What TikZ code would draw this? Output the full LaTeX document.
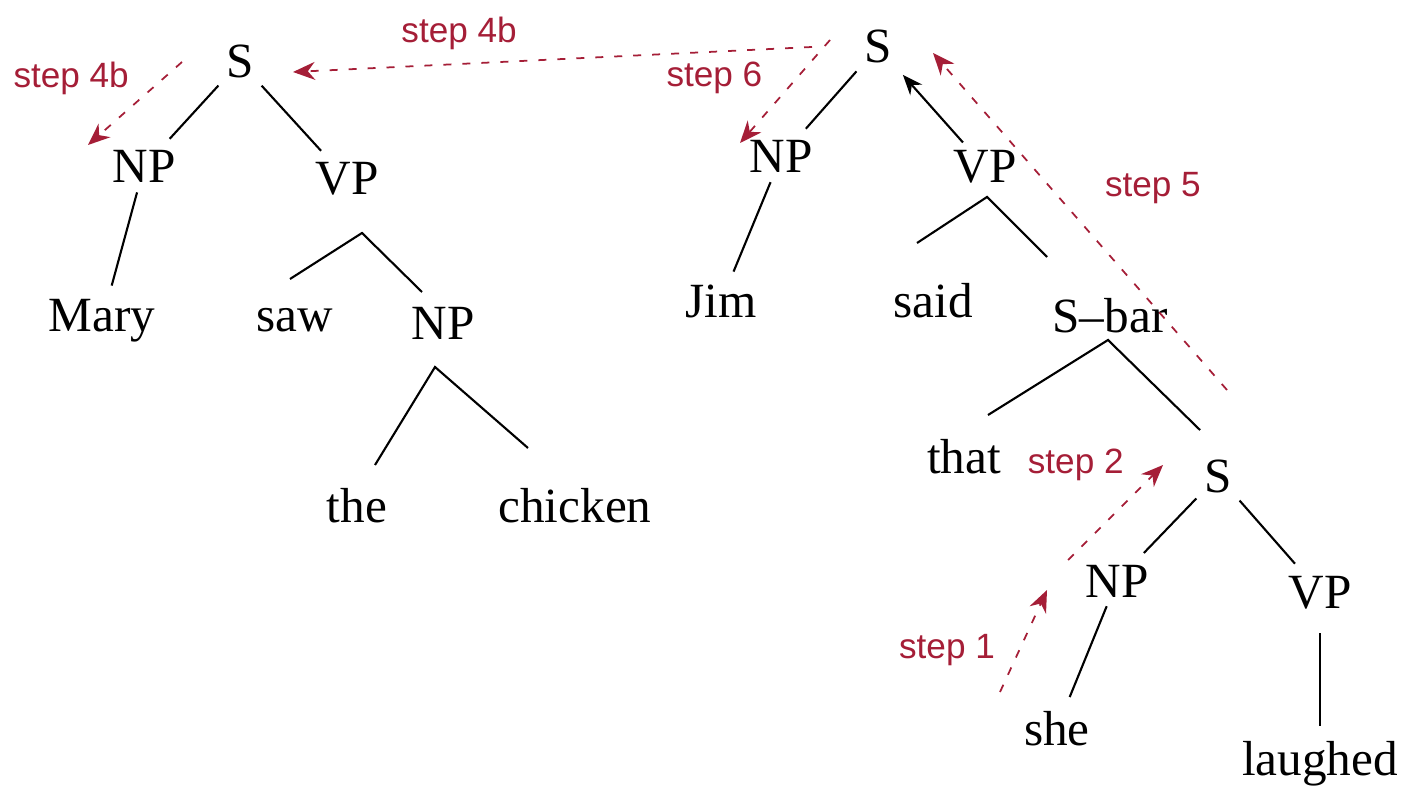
\documentclass[tikz,border=0pt]{standalone}
\usepackage{fontspec}
\setmainfont{Liberation Serif}
\newfontfamily\stepfont{Liberation Sans}
\usetikzlibrary{arrows.meta}
\definecolor{stepred}{RGB}{165,30,55}

\begin{document}
\begin{tikzpicture}[
x=0.1mm, y=-0.1mm,
line width=0.6pt,
word/.style = {anchor=base, inner sep=1pt, font=\fontsize{14}{16}\selectfont},
edge/.style = {shorten <=0.5mm, shorten >=1mm},
move/.style = {draw=stepred, line width=0.5pt, dash pattern=on 0.8mm off 1.1mm,
  -{Stealth[length=2.2mm,width=1.8mm]}},
steplabel/.style = {text=stepred, inner sep=1pt, font=\stepfont\fontsize{10}{12}\selectfont} ]
\useasboundingbox (0,0) rectangle (1408,788);

% Mary saw the chicken
\node[word] (1) at (240,78) {S};
\node[word] (2) at (144,183) {NP};
\node[word] (3) at (347,195) {VP};
\node[word] (4) at (102,332) {Mary};
\node[word] (5) at (295,332) {saw};
\node[word] (6) at (443,340) {NP};
\node[word] (7) at (357,522) {the};
\node[word] (8) at (575,522) {chicken};

\draw[edge] (1) -- (2);
\draw[edge] (1) -- (3);
\draw[edge] (2) -- (4);
\coordinate (3a) at (362,233);
\coordinate (3l) at (290,279);
\coordinate (3r) at (422,292);
\draw (3l) -- (3a) -- (3r);
\coordinate (6a) at (435,367);
\coordinate (6l) at (375,465);
\coordinate (6r) at (528,448);
\draw (6l) -- (6a) -- (6r);

% Jim said that she laughed
\node[word] (9) at (878,63) {S};
\node[word] (10) at (781,173) {NP};
\node[word] (11) at (985,183) {VP};
\node[word] (12) at (721,318) {Jim};
\node[word] (13) at (933,318) {said};
\node[word] (14) at (1110,333) {S--bar};
\node[word] (15) at (964,473) {that};
\node[word] (16) at (1218,492) {S};
\node[word] (17) at (1117,597) {NP};
\node[word] (18) at (1320,608) {VP};
\node[word] (19) at (1057,745) {she};
\node[word] (20) at (1320,775) {laughed};

\draw[edge] (9) -- (10);
\draw[edge, -{Stealth[length=2mm,width=1.6mm]}] (11) -- (9);
\draw[edge] (10) -- (12);
\coordinate (11a) at (987,197);
\coordinate (11l) at (917,243);
\coordinate (11r) at (1047,257);
\draw (11l) -- (11a) -- (11r);
\coordinate (14a) at (1108,340);
\coordinate (14l) at (988,415);
\coordinate (14r) at (1200,430);
\draw (14l) -- (14a) -- (14r);
\draw[edge] (16) -- (17);
\draw[edge] (16) -- (18);
\draw[edge] (17) -- (19);
\draw[edge, shorten <=2mm] (18) -- (20);

% movement steps
\coordinate (m1) at (1000,692);
\coordinate (m1e) at (1047,590);
\coordinate (m2) at (1068,560);
\coordinate (m2e) at (1163,465);
\coordinate (m4) at (812,47);
\coordinate (m4e) at (293,72);
\coordinate (m4b) at (182,62);
\coordinate (m4be) at (88,145);
\coordinate (m5) at (1227,390);
\coordinate (m5e) at (933,53);
\coordinate (m6) at (830,40);
\coordinate (m6e) at (740,143);

\draw[move] (m1) -- node[steplabel, pos=0.41, left=2mm] (s1) {step 1} (m1e);
\draw[move] (m2) -- node[steplabel, pos=1, left=3.5mm] (s2) {step 2} (m2e);
\draw[move] (m4) -- node[steplabel, pos=0.68, above=1mm] (s4) {step 4b} (m4e);
\draw[move] (m4b) -- node[steplabel, pos=0.2, left=3mm] (s4b) {step 4b} (m4be);
\draw[move] (m5) -- node[steplabel, pos=0.6, right=5mm] (s5) {step 5} (m5e);
\draw[move] (m6) -- node[steplabel, pos=0.37, left=3mm] (s6) {step 6} (m6e);

\end{tikzpicture}
\end{document}
